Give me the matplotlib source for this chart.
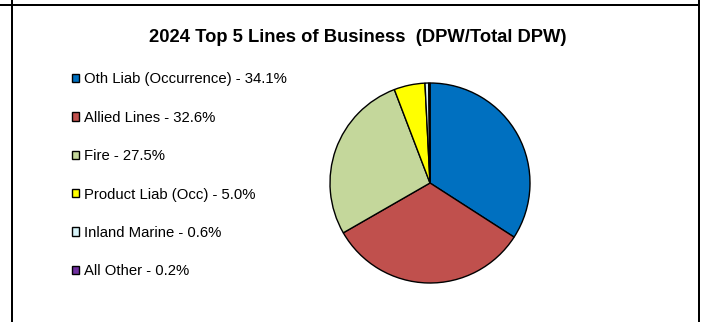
import matplotlib
matplotlib.use("Agg")
import matplotlib.pyplot as plt
from matplotlib.lines import Line2D

categories = ["Oth Liab (Occurrence)", "Allied Lines", "Fire",
              "Product Liab (Occ)", "Inland Marine", "All Other"]
shares = [34.1, 32.6, 27.5, 5.0, 0.6, 0.2]
colors = ["#0070C0", "#C0504D", "#C4D79B", "#FFFF00", "#D6F3F8", "#7030A0"]
labels = [f"{c} - {v:.1f}%" for c, v in zip(categories, shares)]
title = "2024 Top 5 Lines of Business  (DPW/Total DPW)"

plt.rcParams['font.family'] = ['Liberation Sans', 'DejaVu Sans']

W, H = 707, 322
fig = plt.figure(figsize=(W / 100, H / 100), dpi=100)
fig.patch.set_facecolor("white")

# pie axes: center (430,183) px, radius 100 px
cx, cy, r = 430, 183, 100
ax = fig.add_axes([(cx - r) / W, (H - cy - r) / H, 2 * r / W, 2 * r / H])
wedges, _ = ax.pie(shares, colors=colors, startangle=90, counterclock=False,
                   wedgeprops=dict(edgecolor="black", linewidth=1.0))
ax.set_xlim(-1.0, 1.0)
ax.set_ylim(-1.0, 1.0)
ax.set_aspect("equal")
ax.axis("off")

fig.text(357.5 / W, 1 - 37.5 / H, title, ha="center", va="center",
         fontsize=13.2, fontweight="bold")

leg = fig.legend(wedges, labels, loc="upper left",
                 bbox_to_anchor=(72 / W, 1 - 72.5 / H),
                 frameon=False, fontsize=10.75, borderpad=0, borderaxespad=0,
                 handlelength=0.47, handleheight=0.47, handletextpad=0.33,
                 labelspacing=1.63)

# border lines
lw = 2.0 * 72 / 100
fig.add_artist(Line2D([0, 699 / W], [1 - 5 / H, 1 - 5 / H], color="black", lw=lw,
                      transform=fig.transFigure))
fig.add_artist(Line2D([12 / W, 12 / W], [0, 1], color="black", lw=lw,
                      transform=fig.transFigure))
fig.add_artist(Line2D([698.5 / W, 698.5 / W], [0, 1], color="black", lw=lw,
                      transform=fig.transFigure))

fig.savefig("out.png", dpi=100, facecolor="white")
